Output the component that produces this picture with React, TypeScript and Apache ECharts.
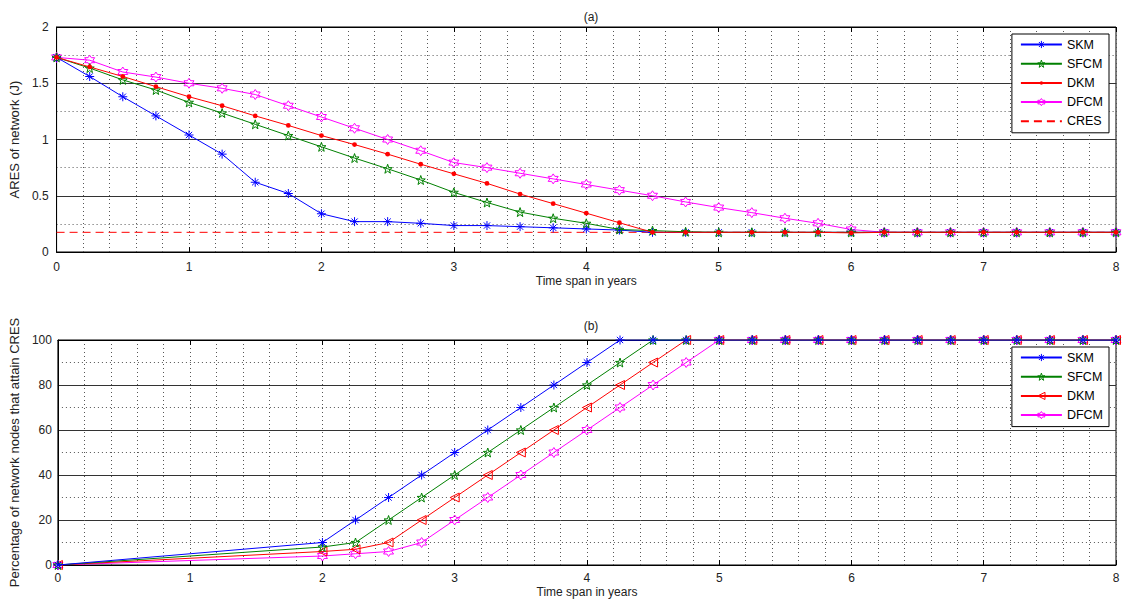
import React, { useEffect, useRef } from "react";
import * as echarts from "echarts";

// ---- (a) residual energy over time ----
const timeA = [0, 0.25, 0.5, 0.75, 1, 1.25, 1.5, 1.75, 2, 2.25, 2.5, 2.75, 3, 3.25, 3.5, 3.75, 4, 4.25, 4.5, 4.75, 5, 5.25, 5.5, 5.75, 6, 6.25, 6.5, 6.75, 7, 7.25, 7.5, 7.75, 8];
const aresSKM = [1.73, 1.56, 1.38, 1.21, 1.04, 0.87, 0.62, 0.52, 0.34, 0.27, 0.27, 0.255, 0.235, 0.235, 0.225, 0.215, 0.205, 0.195, 0.175, 0.175, 0.175, 0.175, 0.175, 0.175, 0.175, 0.175, 0.175, 0.175, 0.175, 0.175, 0.175, 0.175, 0.175];
const aresSFCM = [1.73, 1.635, 1.53, 1.44, 1.33, 1.235, 1.135, 1.035, 0.935, 0.835, 0.74, 0.64, 0.53, 0.44, 0.355, 0.3, 0.255, 0.2, 0.19, 0.18, 0.175, 0.175, 0.175, 0.175, 0.175, 0.175, 0.175, 0.175, 0.175, 0.175, 0.175, 0.175, 0.175];
const aresDKM = [1.73, 1.645, 1.56, 1.47, 1.38, 1.3, 1.21, 1.125, 1.035, 0.955, 0.87, 0.78, 0.695, 0.61, 0.515, 0.43, 0.345, 0.26, 0.175, 0.175, 0.175, 0.175, 0.175, 0.175, 0.17, 0.175, 0.175, 0.175, 0.175, 0.175, 0.175, 0.175, 0.175];
const aresDFCM = [1.73, 1.705, 1.6, 1.555, 1.5, 1.455, 1.4, 1.3, 1.2, 1.1, 1.0, 0.9, 0.795, 0.75, 0.7, 0.65, 0.6, 0.55, 0.5, 0.445, 0.395, 0.35, 0.3, 0.255, 0.2, 0.175, 0.175, 0.175, 0.175, 0.175, 0.175, 0.175, 0.175];
const cresTime = [0, 8];
const cresLevel = [0.175, 0.175];

// ---- (b) share of nodes reaching CRES ----
const timeB = [0, 2, 2.25, 2.5, 2.75, 3, 3.25, 3.5, 3.75, 4, 4.25, 4.5, 4.75, 5, 5.25, 5.5, 5.75, 6, 6.25, 6.5, 6.75, 7, 7.25, 7.5, 7.75, 8];
const pctSKM = [0, 10, 20, 30, 40, 50, 60, 70, 80, 90, 100, 100, 100, 100, 100, 100, 100, 100, 100, 100, 100, 100, 100, 100, 100, 100];
const pctSFCM = [0, 8, 10, 20, 30, 40, 50, 60, 70, 80, 90, 100, 100, 100, 100, 100, 100, 100, 100, 100, 100, 100, 100, 100, 100, 100];
const pctDKM = [0, 6, 7, 10, 20, 30, 40, 50, 60, 70, 80, 90, 100, 100, 100, 100, 100, 100, 100, 100, 100, 100, 100, 100, 100, 100];
const pctDFCM = [0, 4, 5, 6, 10, 20, 30, 40, 50, 60, 70, 80, 90, 100, 100, 100, 100, 100, 100, 100, 100, 100, 100, 100, 100, 100];

const legendNames = ["SKM", "SFCM", "DKM", "DFCM"];
const xTicks = ["0", "1", "2", "3", "4", "5", "6", "7", "8"];

const BLUE = "#0000ff";
const GREEN = "#008000";
const RED = "#ff0000";
const MAGENTA = "#ff00ff";
const CLEAR = "rgba(0,0,0,0)";

// Marker outlines on a 10x10 box
const ASTERISK = "path://M5,0L5,10M0,5L10,5M1.5,1.5L8.5,8.5M1.5,8.5L8.5,1.5";
const PENTAGRAM = "path://M5,0L6.18,3.38L9.76,3.45L6.9,5.62L7.94,9.05L5,7L2.06,9.05L3.1,5.62L0.24,3.45L3.82,3.38Z";
const HEXAGRAM = "path://M5,0L6.44,2.5L9.33,2.5L7.89,5L9.33,7.5L6.44,7.5L5,10L3.56,7.5L0.67,7.5L2.11,5L0.67,2.5L3.56,2.5Z";
const TRIANGLE_LEFT = "path://M0,5L10,0L10,10Z";
// small centred dot; the corner moves only pin the 10x10 box
const SMALL_DOT = "path://M0,0L0,0M10,10L10,10M2.6,5A2.4,2.4,0,1,1,7.4,5A2.4,2.4,0,1,1,2.6,5Z";

const FONT = "Liberation Sans, Arial, sans-serif";
const DOT: any = [1, 3];

const seriesColor: Record<string, string> = { SKM: BLUE, SFCM: GREEN, DKM: RED, DFCM: MAGENTA };
const hollowMarker: Record<string, boolean> = { SKM: false, SFCM: true, DKM: false, DFCM: true };
const hollowMarkerB: Record<string, boolean> = { SKM: false, SFCM: true, DKM: true, DFCM: true };

function pairs(xs: number[], ys: number[]) {
  return xs.map((x, i) => [x, ys[i]]);
}

function markerSeries(
  name: string,
  xs: number[],
  ys: number[],
  color: string,
  symbol: string,
  size: number,
  gridIdx: number,
  fill: "hollow" | "solid" | "dot",
  z: number
) {
  const itemStyle =
    fill === "hollow"
      ? { color: CLEAR, borderColor: color, borderWidth: 1 }
      : fill === "dot"
      ? { color, borderWidth: 0 }
      : { color, borderColor: color, borderWidth: 1 };
  return {
    type: "line",
    name,
    xAxisIndex: gridIdx * 2,
    yAxisIndex: gridIdx,
    data: pairs(xs, ys),
    symbol,
    symbolSize: size,
    showSymbol: true,
    lineStyle: { color, width: 1 },
    itemStyle,
    emphasis: { disabled: true },
    z,
  };
}

function xAxes(gridIndex: number, name: string, nameGap: number, labelMargin: number) {
  return [
    {
      type: "value",
      gridIndex,
      min: 0,
      max: 8,
      interval: 1,
      name,
      nameLocation: "middle",
      nameGap,
      nameTextStyle: { fontFamily: FONT, fontSize: 12, color: "#222" },
      axisLine: { show: true, lineStyle: { color: "#000", width: 1 } },
      axisTick: { show: true, inside: true, length: 5, lineStyle: { color: "#000" } },
      axisLabel: {
        fontFamily: FONT,
        fontSize: 12,
        color: "#222",
        margin: labelMargin,
        formatter: (v: number) => xTicks[Math.round(v)] ?? "",
      },
      splitLine: { show: true, lineStyle: { color: "#555", width: 1, type: DOT } },
      minorTick: { show: false, splitNumber: 5 },
      minorSplitLine: { show: true, lineStyle: { color: "#555", width: 1, type: DOT } },
    },
    {
      type: "value",
      gridIndex,
      position: "top",
      min: 0,
      max: 8,
      interval: 1,
      axisLine: { show: true, lineStyle: { color: "#000", width: 1 } },
      axisTick: { show: true, inside: true, length: 5, lineStyle: { color: "#000" } },
      axisLabel: { show: false },
      splitLine: { show: false },
    },
  ];
}

function legendItem(label: string, name: string, hollow: boolean, dot: boolean) {
  const c = seriesColor[label];
  return {
    name,
    itemStyle: hollow
      ? { color: CLEAR, borderColor: c, borderWidth: 1 }
      : dot
      ? { color: c, borderWidth: 0 }
      : { color: c, borderColor: c, borderWidth: 1 },
  };
}

export default function App() {
  const ref = useRef<HTMLDivElement>(null);

  useEffect(() => {
    if (!ref.current) return;
    const chart = echarts.init(ref.current, null, { renderer: "svg" });

    const legendBase = {
      orient: "vertical",
      right: 15,
      padding: [4, 6, 5, 8],
      itemWidth: 41,
      itemHeight: 9,
      itemGap: 6.2,
      borderColor: "#000",
      borderWidth: 1,
      backgroundColor: "#fff",
      borderRadius: 0,
      selectedMode: false,
      textStyle: { fontFamily: FONT, fontSize: 12.5, color: "#000" },
    };

    const option: any = {
      animation: false,
      backgroundColor: "#fff",
      title: [
        {
          text: "(a)",
          left: 586,
          top: 6,
          textAlign: "center",
          textStyle: { fontFamily: FONT, fontSize: 12, fontWeight: "normal", color: "#222" },
        },
        {
          text: "(b)",
          left: 586,
          top: 315,
          textAlign: "center",
          textStyle: { fontFamily: FONT, fontSize: 12, fontWeight: "normal", color: "#222" },
        },
      ],
      grid: [
        { left: 56, right: 8, top: 27, height: 225, show: true, borderColor: "#000", borderWidth: 1, backgroundColor: "#fff" },
        { left: 56, right: 8, top: 340, height: 225, show: true, borderColor: "#000", borderWidth: 1, backgroundColor: "#fff" },
      ],
      xAxis: [
        ...xAxes(0, "Time span in years", 23, 9),
        ...xAxes(1, "Time span in years", 21, 7),
      ],
      yAxis: [
        {
          type: "value",
          gridIndex: 0,
          min: 0,
          max: 2,
          interval: 0.5,
          name: "ARES of network (J)",
          nameLocation: "middle",
          nameGap: 30,
          nameTextStyle: { fontFamily: FONT, fontSize: 13, color: "#222" },
          axisLine: { show: true, lineStyle: { color: "#000" } },
          axisTick: { show: false },
          axisLabel: { fontFamily: FONT, fontSize: 12, color: "#222", margin: 8 },
          splitLine: { show: true, lineStyle: { color: "#333", width: 1 } },
          minorTick: { show: false, splitNumber: 2 },
          minorSplitLine: { show: true, lineStyle: { color: "#555", width: 1, type: DOT } },
        },
        {
          type: "value",
          gridIndex: 1,
          min: 0,
          max: 100,
          interval: 20,
          name: "Percentage of network nodes that attain CRES",
          nameLocation: "middle",
          nameGap: 34,
          nameTextStyle: { fontFamily: FONT, fontSize: 13, color: "#222" },
          axisLine: { show: true, lineStyle: { color: "#000" } },
          axisTick: { show: false },
          axisLabel: { fontFamily: FONT, fontSize: 12, color: "#222", margin: 6 },
          splitLine: { show: true, lineStyle: { color: "#333", width: 1 } },
          minorTick: { show: false, splitNumber: 2 },
          minorSplitLine: { show: true, lineStyle: { color: "#555", width: 1, type: DOT } },
        },
      ],
      legend: [
        {
          ...legendBase,
          top: 34,
          data: [
            ...legendNames.map((n) => legendItem(n, n, hollowMarker[n], n === "DKM")),
            { name: "CRES", itemStyle: { opacity: 0 } },
          ],
        },
        {
          ...legendBase,
          top: 347,
          data: legendNames.map((n) => legendItem(n, "b:" + n, hollowMarkerB[n], false)),
          formatter: (n: string) => n.slice(2),
        },
      ],
      series: [
        markerSeries("DFCM", timeA, aresDFCM, MAGENTA, HEXAGRAM, 10, 0, "hollow", 2),
        markerSeries("SKM", timeA, aresSKM, BLUE, ASTERISK, 9, 0, "solid", 3),
        markerSeries("SFCM", timeA, aresSFCM, GREEN, PENTAGRAM, 9, 0, "hollow", 4),
        markerSeries("DKM", timeA, aresDKM, RED, SMALL_DOT, 10, 0, "dot", 5),
        {
          type: "line",
          name: "CRES",
          xAxisIndex: 0,
          yAxisIndex: 0,
          data: pairs(cresTime, cresLevel),
          symbol: "none",
          lineStyle: { color: RED, width: 1, type: [8, 5] },
          itemStyle: { color: RED },
          emphasis: { disabled: true },
          z: 1,
        },
        markerSeries("b:DFCM", timeB, pctDFCM, MAGENTA, HEXAGRAM, 10, 1, "hollow", 2),
        markerSeries("b:DKM", timeB, pctDKM, RED, TRIANGLE_LEFT, 9, 1, "hollow", 3),
        markerSeries("b:SFCM", timeB, pctSFCM, GREEN, PENTAGRAM, 9, 1, "hollow", 4),
        markerSeries("b:SKM", timeB, pctSKM, BLUE, ASTERISK, 9, 1, "solid", 5),
      ],
    };

    chart.setOption(option);
    return () => chart.dispose();
  }, []);

  return (
    <div
      ref={ref}
      style={{ position: "fixed", left: 0, top: 0, width: 1124, height: 600, background: "#fff" }}
    />
  );
}
